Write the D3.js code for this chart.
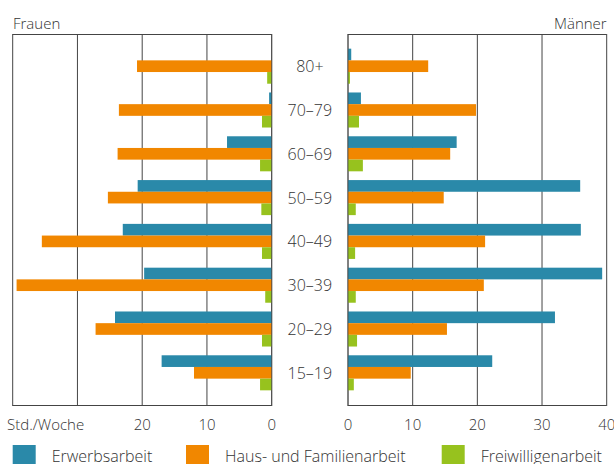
<!DOCTYPE html>
<html><head><meta charset="utf-8">
<script src="https://cdn.jsdelivr.net/npm/d3@7"></script>
<style>
html,body{margin:0;padding:0;background:#fff;}
svg{display:block;font-family:"Open Sans",sans-serif;font-weight:300;}
</style></head>
<body><svg id="c" width="614" height="464"></svg>
<script>
const categories = ["80+","70–79","60–69","50–59","40–49","30–39","20–29","15–19"];
const seriesNames = ["Erwerbsarbeit","Haus- und Familienarbeit","Freiwilligenarbeit"];
const colors = ["#2a89a9","#f18700","#97c21e"];
// Frauen (Std./Woche)
const womenErwerb  = [0.0, 0.4, 6.9, 20.7, 23.0, 19.7, 24.2, 17.0];
const womenHaus    = [20.8, 23.6, 23.8, 25.3, 35.5, 39.4, 27.2, 12.0];
const womenFrei    = [0.7, 1.5, 1.8, 1.6, 1.5, 1.0, 1.5, 1.8];
// Männer (Std./Woche)
const menErwerb    = [0.5, 2.0, 16.8, 35.9, 36.0, 39.3, 32.0, 22.3];
const menHaus      = [12.4, 19.8, 15.8, 14.8, 21.2, 21.0, 15.3, 9.7];
const menFrei      = [0.3, 1.7, 2.3, 1.2, 1.1, 1.2, 1.4, 0.9];
const leftTicks = [20,10,0];
const rightTicks = [0,10,20,30,40];

const svg = d3.select("#c");
const plotTop = 34, plotBottom = 405;
const y = d3.scaleBand().domain(categories).range([plotTop,plotBottom]).paddingInner(0.2).paddingOuter(0.335);
const sub = d3.scaleBand().domain(seriesNames).range([0,y.bandwidth()]);
const xL = d3.scaleLinear().domain([0,40]).range([271.7,12.7]);
const xR = d3.scaleLinear().domain([0,40]).range([348,606.7]);
const gridColor = "#444";
const textColor = "#333";

function panel(x, data, ticks){
  const g = svg.append("g");
  const x0 = Math.min(x(0),x(40)), x1 = Math.max(x(0),x(40));
  g.append("line").attr("x1",x0).attr("x2",x1)
    .attr("y1",plotTop+0.5).attr("y2",plotTop+0.5).attr("stroke",gridColor);
  g.append("line").attr("x1",x0).attr("x2",x1)
    .attr("y1",plotBottom+0.5).attr("y2",plotBottom+0.5).attr("stroke",gridColor);
  g.selectAll("line.grid").data([0,10,20,30,40]).join("line").attr("class","grid")
    .attr("x1",d=>x(d)).attr("x2",d=>x(d)).attr("y1",plotTop).attr("y2",plotBottom+1)
    .attr("stroke",gridColor).attr("stroke-width",1);
  seriesNames.forEach((s,i)=>{
    g.selectAll(null).data(data[i]).join("rect")
      .attr("x",(d)=>Math.min(x(0),x(d)))
      .attr("width",d=>Math.abs(x(d)-x(0)))
      .attr("y",(d,j)=>y(categories[j])+sub(s))
      .attr("height",sub.bandwidth())
      .attr("fill",colors[i]);
  });
  g.append("line").attr("x1",x(0)).attr("x2",x(0)).attr("y1",plotTop).attr("y2",plotBottom+1)
    .attr("stroke",gridColor).attr("stroke-opacity",0.7);
  g.selectAll("text.tick").data(ticks).join("text").attr("class","tick")
    .attr("x",d=>x(d)).attr("y",430).attr("text-anchor","middle")
    .attr("font-size",15).attr("fill",textColor).text(d=>d);
}
panel(xL,[womenErwerb,womenHaus,womenFrei],leftTicks);
panel(xR,[menErwerb,menHaus,menFrei],rightTicks);

svg.append("text").attr("x",7).attr("y",430).attr("font-size",15).attr("fill",textColor).text("Std./Woche");
svg.append("text").attr("x",13).attr("y",29).attr("font-size",15).attr("fill",textColor).text("Frauen");
svg.append("text").attr("x",606.7).attr("y",29).attr("text-anchor","end").attr("font-size",15).attr("fill",textColor).text("Männer");

svg.selectAll("text.cat").data(categories).join("text").attr("class","cat")
  .attr("x",(xL(0)+xR(0))/2).attr("y",d=>y(d)+y.bandwidth()/2+6)
  .attr("text-anchor","middle").attr("font-size",16).attr("fill",textColor).text(d=>d);

const legX = [12.7,186,441.7];
const leg = svg.selectAll("g.leg").data(seriesNames).join("g").attr("class","leg")
  .attr("transform",(d,i)=>`translate(${legX[i]},445)`);
leg.append("rect").attr("width",23).attr("height",23).attr("fill",(d,i)=>colors[i]);
leg.append("text").attr("x",39).attr("y",16.7).attr("font-size",16).attr("fill",textColor).text(d=>d);
</script></body></html>
